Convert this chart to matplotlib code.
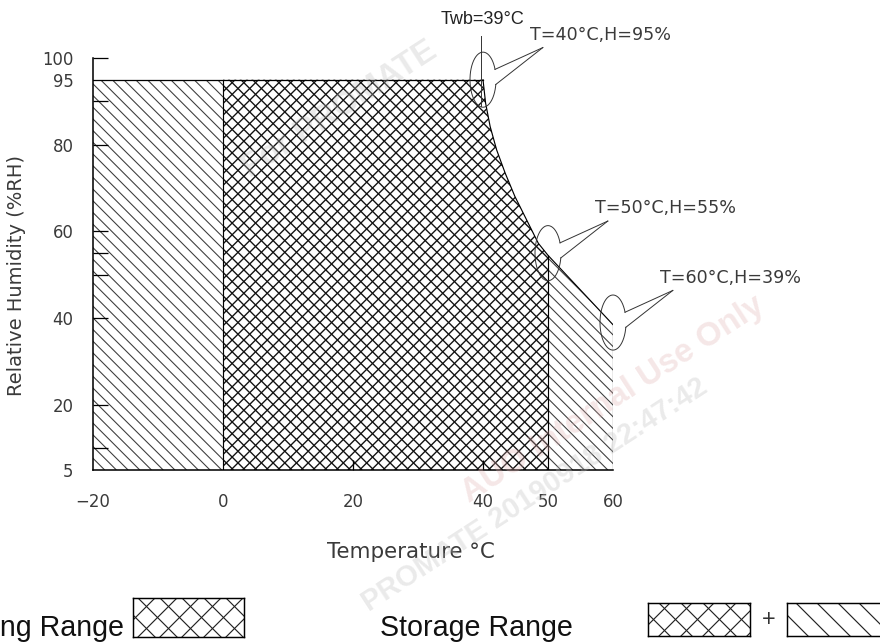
import numpy as np
import matplotlib
matplotlib.use("Agg")
import matplotlib.pyplot as plt
from matplotlib.patches import Polygon
from matplotlib.collections import LineCollection
from matplotlib.transforms import IdentityTransform

DPI = 70

# axis ticks
temp_ticks = [-20, 0, 20, 40, 50, 60]
temp_marks = [20, 40]
rh_ticks = [100, 95, 80, 60, 40, 20, 5]
rh_marks = [100, 90, 80, 60, 55, 50, 40, 20, 10]

storage_temp = (-20, 60)
operating_temp = (0, 50)
rh_range = (5, 95)

# Twb = 39 C boundary
curve_temp = [40, 40.4, 41.1, 42.1, 43.4, 44.9, 46.7, 48.5, 50, 60]
curve_rh = [95, 89.6, 84.2, 78.8, 73.5, 68.1, 62.7, 57.3, 54.5, 38.5]

callout_temp = [40, 50, 60]
callout_rh = [95, 55, 39]
callout_labels = ["T=40°C,H=95%", "T=50°C,H=55%", "T=60°C,H=39%"]
twb_label = "Twb=39°C"

cad_color = "#3a3a3a"

fig = plt.figure(figsize=(880 / DPI, 644 / DPI), dpi=DPI)
ax = fig.add_axes([93 / 880, (644 - 470) / 644, 520 / 880, 412 / 644])
ax.set_xlim(storage_temp)
ax.set_ylim(rh_range[0], 100)
box = ax.get_window_extent()


def hatched(xy, cross, color, lw, step=11.7):
    # hand-drawn hatching in pixel space, clipped to the region
    p = Polygon(xy, closed=True, facecolor="none", edgecolor="none", zorder=1)
    ax.add_patch(p)
    x0, y0, x1, y1 = box.x0, box.y0, box.x1, box.y1
    h = y1 - y0
    segs = []
    for c in np.arange(x0 - h - step, x1 + h + step, step):
        segs.append([(c, y1), (c + h, y0)])
        if cross:
            segs.append([(c, y0), (c + h, y1)])
    lc = LineCollection(segs, colors=color, linewidths=lw,
                        transform=IdentityTransform(), zorder=1)
    ax.add_collection(lc, autolim=False)
    lc.set_clip_path(p)


# storage only, left part
left = [(storage_temp[0], rh_range[0]), (storage_temp[0], rh_range[1]),
        (operating_temp[0], rh_range[1]), (operating_temp[0], rh_range[0])]
hatched(left, False, "#3c3c3c", 1.1)

# operating range
op_t = [operating_temp[0]] + curve_temp[:9] + [operating_temp[1]]
op_h = [rh_range[1]] + curve_rh[:9] + [rh_range[0]]
hatched(list(zip([operating_temp[0]] + op_t, [rh_range[0]] + op_h)), True, "#111111", 1.4)

# storage only, right part
rt = [operating_temp[1]] + curve_temp[8:] + [storage_temp[1]]
rh = [rh_range[0]] + curve_rh[8:] + [rh_range[0]]
hatched(list(zip(rt, rh)), False, "#3c3c3c", 1.1)

# outlines
ax.plot([storage_temp[0], curve_temp[0]], [rh_range[1]] * 2, color="k", lw=1.3)
ax.plot(curve_temp, curve_rh, color="k", lw=1.2)
ax.vlines([operating_temp[0], operating_temp[1], storage_temp[1]], rh_range[0],
          [rh_range[1], curve_rh[8], curve_rh[-1]], color="k", lw=1.2)

# axes styling
for s in ["top", "right"]:
    ax.spines[s].set_visible(False)
for s in ["left", "bottom"]:
    ax.spines[s].set_linewidth(1.6)
ax.xaxis.remove_overlapping_locs = False
ax.yaxis.remove_overlapping_locs = False
ax.set_xticks(temp_ticks)
ax.set_xticklabels([str(v).replace("-", "\u2212") for v in temp_ticks])
ax.set_xticks(temp_marks, minor=True)
ax.set_yticks(rh_ticks)
ax.set_yticks(rh_marks, minor=True)
ax.tick_params(which="major", length=0, labelsize=17, labelcolor=cad_color)
ax.tick_params(axis="x", which="major", pad=24)
ax.tick_params(axis="y", which="major", pad=20)
ax.tick_params(which="minor", direction="in", width=1.3, color="k")
ax.tick_params(axis="y", which="minor", length=15)
ax.tick_params(axis="x", which="minor", length=10)

ax.set_xlabel("Temperature °C", fontsize=22, color=cad_color, va="center")
ax.xaxis.set_label_coords((411 - 93) / 520, (470 - 552) / 412)
ax.set_ylabel("Relative Humidity (%RH)", fontsize=20, color=cad_color, va="center")
ax.yaxis.set_label_coords((17 - 93) / 520, (470 - 275) / 412)

# callout balloons
a, b = 2.0, 6.35
th = np.radians(np.linspace(22, 350, 150))
for t, h, lab in zip(callout_temp, callout_rh, callout_labels):
    ax.plot(t + a * np.cos(th), h + b * np.sin(th), color="#333", lw=1.0,
            clip_on=False, zorder=4)
    tip = (t + 9.2, h + 7.4)
    for ang in (22, -10):
        r = np.radians(ang)
        ax.plot([t + a * np.cos(r), tip[0]], [h + b * np.sin(r), tip[1]],
                color="#333", lw=1.0, clip_on=False, zorder=4)
    ax.text(t + 7.2, h + 10.3, lab, fontsize=18, color=cad_color,
            ha="left", va="center", clip_on=False)

# wet bulb label and leader
ax.plot([callout_temp[0] - 0.3] * 2, [callout_rh[0] - 6, callout_rh[0] + 10],
        color="#333", lw=1.0, clip_on=False)
ax.text(callout_temp[0] - 6.5, callout_rh[0] + 13.8, twb_label, fontsize=18.5,
        family="Liberation Sans", color="#222", ha="left", va="center")

# legend row
fig.text(124 / 880, (644 - 636) / 644, "Operating Range", fontsize=29.5,
         family="Liberation Sans", color="#111", ha="right", va="baseline")
fig.text(380 / 880, (644 - 636) / 644, "Storage Range", fontsize=29.5,
         family="Liberation Sans", color="#111", ha="left", va="baseline")
fig.text(769 / 880, (644 - 619) / 644, "+", fontsize=24,
         family="Liberation Sans", color="#333", ha="center", va="center")


def swatch(x0, y0, w, h, cross):
    sa = fig.add_axes([x0 / 880, (644 - y0 - h) / 644, w / 880, h / 644])
    sa.set_xlim(0, w)
    sa.set_ylim(0, h)
    sa.set_xticks([])
    sa.set_yticks([])
    for sp in sa.spines.values():
        sp.set_linewidth(1.5)
    step = 22 if cross else 21
    for c in np.arange(-h, w + h, step):
        sa.plot([c, c + h], [h, 0], color="#222", lw=1.2)
        if cross:
            sa.plot([c, c + h], [0, h], color="#222", lw=1.2)


swatch(133, 598, 111, 39, True)
swatch(648, 603, 102, 33, True)
swatch(787, 603, 102, 33, False)

# faint watermark
wm = dict(fontweight="bold", family="Liberation Sans",
          rotation=33, ha="center", va="center", alpha=0.3, zorder=10)
fig.text(340 / 880, 1 - 110 / 644, "For PROMATE", color="#bbbbbb", fontsize=34, **wm)
fig.text(613 / 880, 1 - 400 / 644, "AUO Internal Use Only", color="#e0b0b0", fontsize=34, **wm)
fig.text(535 / 880, 1 - 495 / 644, "PROMATE 20190918 22:47:42", color="#bbbbbb", fontsize=30, **wm)

fig.savefig("out.png", dpi=DPI)
